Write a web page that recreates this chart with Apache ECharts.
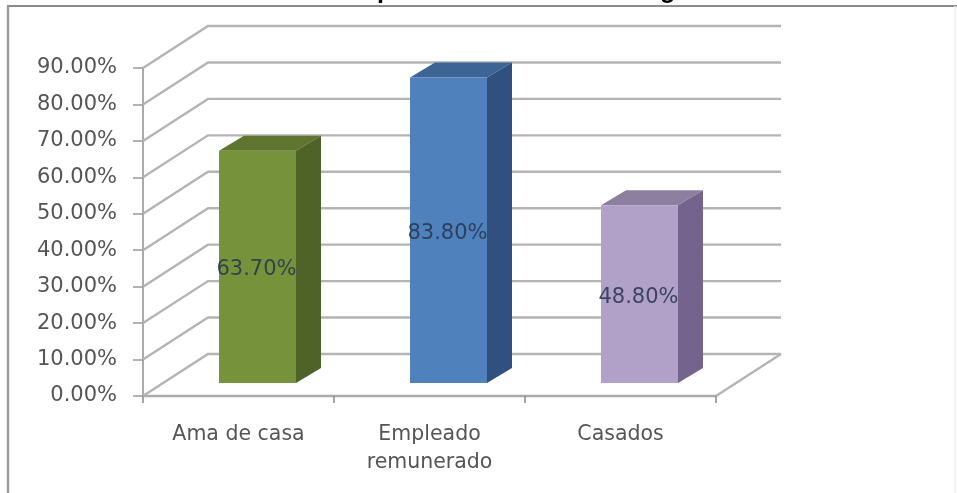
<!DOCTYPE html>
<html><head><meta charset="utf-8">
<style>html,body{margin:0;padding:0;background:#fff}#c{width:957px;height:493px;filter:blur(0.5px)}</style>
<script src="https://cdn.jsdelivr.net/npm/echarts@6/dist/echarts.min.js"></script>
</head><body><div id="c"></div>
<script>
const categories = ['Ama de casa', 'Empleado\nremunerado', 'Casados'];
const values = [63.7, 83.8, 48.8];
const valueLabels = ['63.70%', '83.80%', '48.80%'];
const gridTicks = [0, 10, 20, 30, 40, 50, 60, 70, 80, 90];
const frontColors = ['#76933c', '#4f81bd', '#b1a0c7'];
const topColors = ['#5f7530', '#3c6596', '#8d7fa0'];
const sideColors = ['#4f6228', '#305080', '#74638c'];

const FONT = '"DejaVu Sans", sans-serif';
const WALL_DX = 65, WALL_DY = 42;
const BAR_W = 77, BAR_SHIFT_X = 19, BAR_SHIFT_Y = 13, BAR_DX = 25, BAR_DY = 15;

const chart = echarts.init(document.getElementById('c'), null, {renderer: 'canvas'});
const lineStyle = {stroke: '#b4b4b4', lineWidth: 2.4, fill: null};

function wallItem(params, api) {
  const v = api.value(0);
  const p = api.coord([0, v]);
  const size = api.size([1, 0]);
  const x0 = p[0] - size[0] / 2, y = p[1];
  const x1 = x0 + size[0] * categories.length;
  const children = [{
    type: 'polyline',
    shape: {points: [[x0, y], [x0 + WALL_DX, y - WALL_DY], [x1 + WALL_DX, y - WALL_DY]]},
    style: lineStyle
  }];
  if (v === 0) {
    children.push({
      type: 'line',
      shape: {x1: x1, y1: y, x2: x1 + WALL_DX, y2: y - WALL_DY},
      style: lineStyle
    });
  }
  return {type: 'group', children};
}

function barItem(params, api) {
  const i = api.value(0), v = api.value(1);
  const top = api.coord([i, v]);
  const base = api.coord([i, 0]);
  const xl = top[0] + BAR_SHIFT_X - BAR_W / 2, xr = xl + BAR_W;
  const yt = top[1] - BAR_SHIFT_Y, yb = base[1] - BAR_SHIFT_Y;
  return {type: 'group', children: [
    {type: 'polygon', shape: {points: [[xl, yt], [xr, yt], [xr + BAR_DX, yt - BAR_DY], [xl + BAR_DX, yt - BAR_DY]]},
      style: {fill: topColors[i]}},
    {type: 'polygon', shape: {points: [[xr, yt], [xr + BAR_DX, yt - BAR_DY], [xr + BAR_DX, yb - BAR_DY], [xr, yb]]},
      style: {fill: sideColors[i]}},
    {type: 'rect', shape: {x: xl, y: yt, width: BAR_W, height: yb - yt},
      style: {fill: frontColors[i]}},
    {type: 'text', x: xl + BAR_W / 2 - 1, y: (yt + yb) / 2 + 3,
      style: {text: valueLabels[i], fill: '#26344f', opacity: 0.85, font: '21px ' + FONT, align: 'center', verticalAlign: 'middle'}}
  ]};
}

chart.setOption({
  animation: false,
  backgroundColor: '#fff',
  grid: {left: 143, width: 573, top: 68, height: 328, containLabel: false},
  xAxis: {
    type: 'category', data: categories, boundaryGap: true,
    axisLine: {lineStyle: {color: '#aaa', width: 2.4}},
    axisTick: {show: true, length: 7, alignWithLabel: false, lineStyle: {color: '#888', width: 1.5}},
    axisLabel: {color: '#555', fontSize: 20.5, fontFamily: FONT, margin: 25, lineHeight: 28}
  },
  yAxis: {
    type: 'value', min: 0, max: 90, interval: 10,
    axisLine: {show: true, lineStyle: {color: '#aaa', width: 2}},
    axisTick: {show: true, length: 10, lineStyle: {color: '#999', width: 1.5}},
    splitLine: {show: false},
    axisLabel: {color: '#555', fontSize: 21, fontFamily: FONT, margin: 26, padding: [3, 0, 0, 0], formatter: v => v.toFixed(2) + '%'}
  },
  series: [
    {type: 'custom', renderItem: wallItem, data: gridTicks.map(v => [v]), encode: {y: 0}, z: 1, silent: true},
    {type: 'custom', renderItem: barItem, data: values.map((v, i) => [i, v]), encode: {x: 0, y: 1}, z: 2, silent: true}
  ],
  graphic: [
    {type: 'text', left: 377, top: -21, z: 5, style: {text: 'p', fill: '#000', font: 'bold 25px "Liberation Sans", sans-serif'}},
    {type: 'text', left: 660, top: -21, z: 5, style: {text: 'g', fill: '#000', font: 'bold 25px "Liberation Sans", sans-serif'}},
    {type: 'line', z: 6, silent: true, shape: {x1: 7, y1: 6, x2: 957, y2: 6}, style: {stroke: '#8c8c8c', lineWidth: 2}},
    {type: 'line', z: 6, silent: true, shape: {x1: 8, y1: 6, x2: 8, y2: 493}, style: {stroke: '#9a9a9a', lineWidth: 2.4}},
    {type: 'line', z: 6, silent: true, shape: {x1: 955, y1: 6, x2: 955, y2: 493}, style: {stroke: '#efefef', lineWidth: 1.5}}
  ]
});
</script></body></html>
